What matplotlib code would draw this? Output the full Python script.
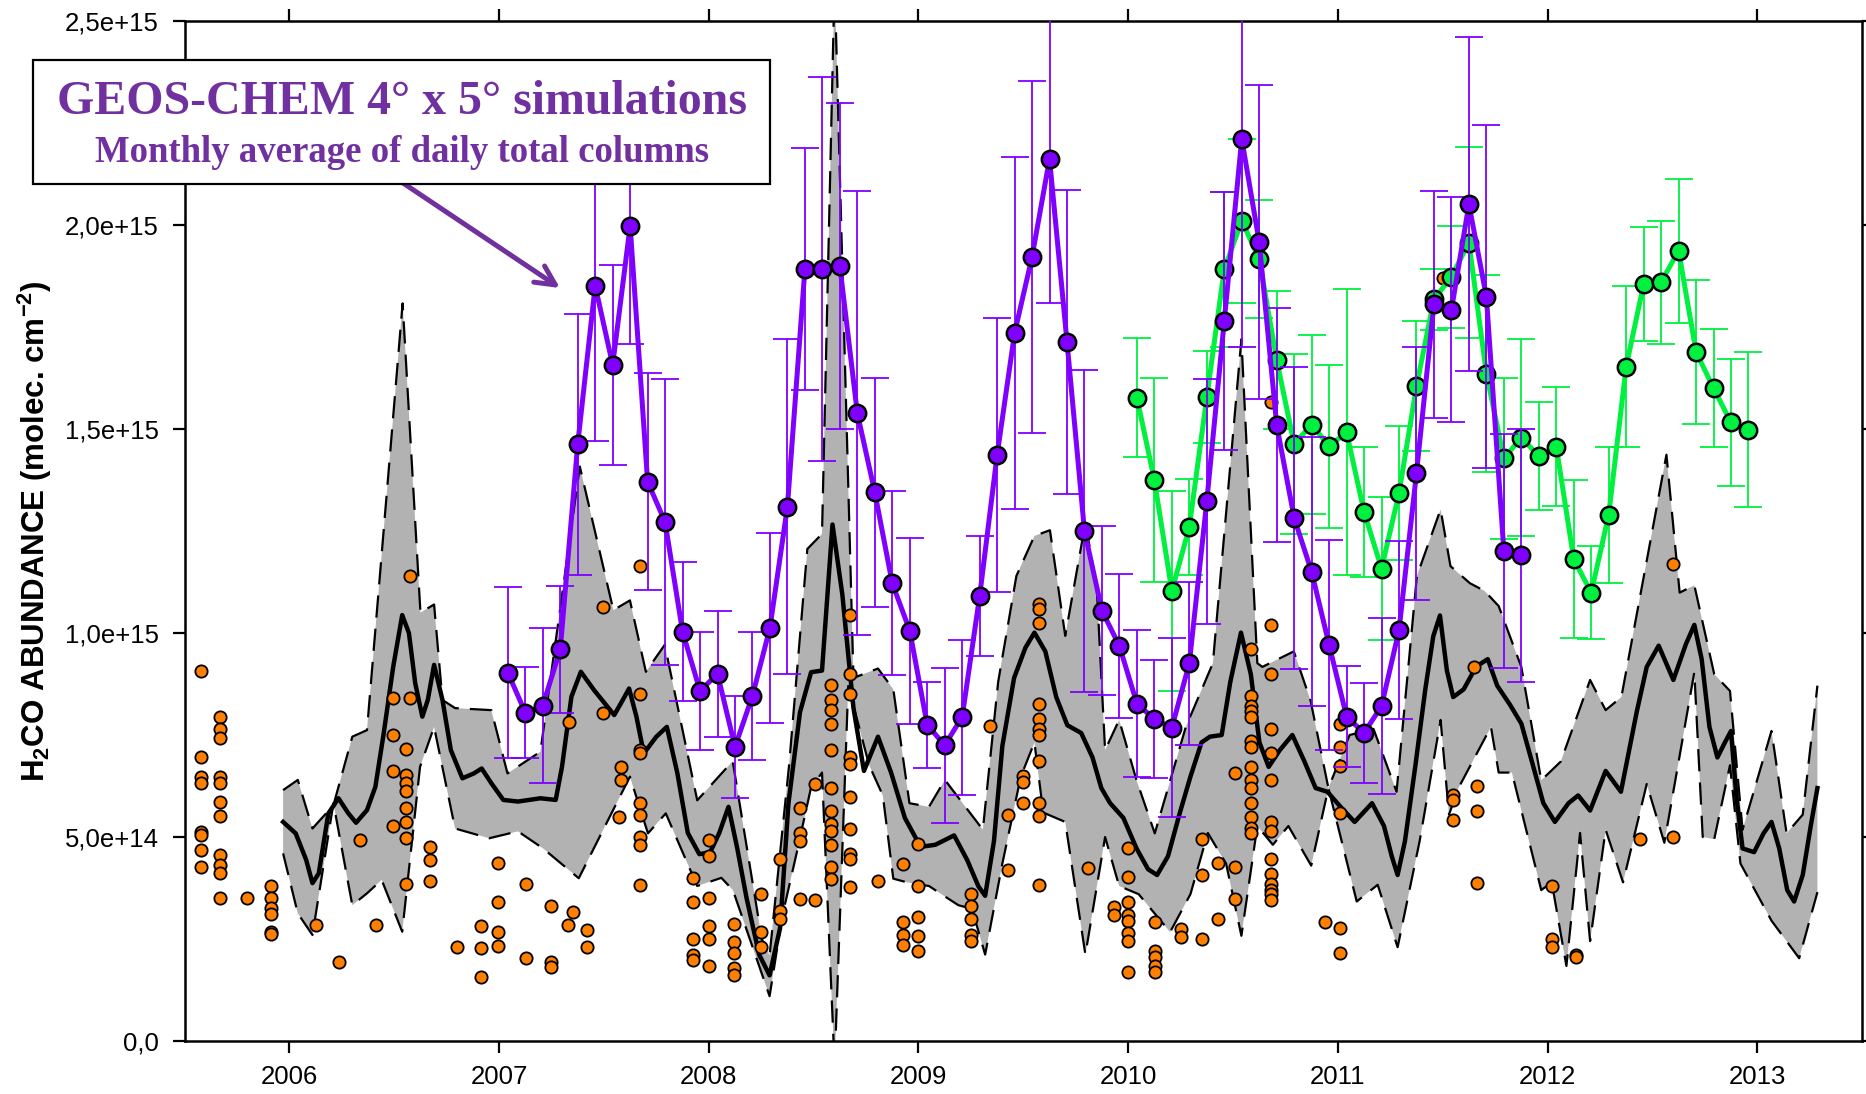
import numpy as np
import matplotlib
matplotlib.use('Agg')
import matplotlib.pyplot as plt
from matplotlib.patches import Rectangle
from matplotlib.ticker import FuncFormatter

plt.rcParams['font.family'] = ['Liberation Sans', 'DejaVu Sans']
plt.rcParams['mathtext.fontset'] = 'custom'
plt.rcParams['mathtext.rm'] = 'Liberation Sans:bold'
plt.rcParams['mathtext.bf'] = 'Liberation Sans:bold'

# valeurs en 1e15 molec/cm2, temps en années décimales
purple_start = 2007
purple_vals = [0.903, 0.805, 0.822, 0.960, 1.463, 1.851, 1.657, 1.998, 1.371, 1.272, 1.003, 0.858,
               0.900, 0.721, 0.846, 1.013, 1.310, 1.892, 1.892, 1.900, 1.539, 1.345, 1.122, 1.006,
               0.775, 0.725, 0.794, 1.090, 1.436, 1.735, 1.922, 2.162, 1.714, 1.250, 1.055, 0.968,
               0.827, 0.789, 0.768, 0.926, 1.323, 1.765, 2.211, 1.958, 1.510, 1.282, 1.150, 0.971,
               0.795, 0.755, 0.821, 1.007, 1.392, 1.806, 1.792, 2.051, 1.824, 1.201, 1.191]
purple_err = [0.21, 0.112, 0.19, 0.155, 0.32, 0.38, 0.245, 0.29, 0.266, 0.35, 0.17, 0.145,
              0.155, 0.125, 0.157, 0.233, 0.41, 0.297, 0.47, 0.40, 0.545, 0.28, 0.225, 0.228,
              0.105, 0.19, 0.19, 0.147, 0.336, 0.432, 0.432, 0.353, 0.373, 0.395, 0.208, 0.176,
              0.18, 0.144, 0.22, 0.20, 0.30, 0.317, 0.51, 0.385, 0.287, 0.37, 0.33, 0.257,
              0.124, 0.123, 0.215, 0.218, 0.31, 0.278, 0.276, 0.41, 0.42, 0.287, 0.31]

green_start = 2010
green_vals = [1.577, 1.375, 1.103, 1.260, 1.578, 1.892, 2.010, 1.917, 1.669, 1.463, 1.511, 1.458,
              1.492, 1.297, 1.158, 1.343, 1.605, 1.818, 1.873, 1.957, 1.636, 1.428, 1.479, 1.434,
              1.457, 1.181, 1.099, 1.290, 1.653, 1.855, 1.860, 1.937, 1.689, 1.600, 1.516, 1.498]
green_err = [0.146, 0.25, 0.246, 0.117, 0.113, 0.19, 0.20, 0.144, 0.17, 0.22, 0.22, 0.20,
             0.35, 0.16, 0.176, 0.164, 0.16, 0.075, 0.125, 0.233, 0.242, 0.197, 0.242, 0.132,
             0.145, 0.193, 0.114, 0.167, 0.198, 0.14, 0.151, 0.176, 0.176, 0.145, 0.156, 0.19]

mean_t = [2005.97, 2006.03, 2006.08, 2006.11, 2006.14, 2006.186, 2006.234, 2006.28, 2006.318, 2006.37,
          2006.41, 2006.45, 2006.495, 2006.538, 2006.57, 2006.60, 2006.634, 2006.66, 2006.69, 2006.73,
          2006.77, 2006.825, 2006.88, 2006.917, 2006.963, 2007.02, 2007.09, 2007.197, 2007.27, 2007.30,
          2007.345, 2007.39, 2007.453, 2007.549, 2007.59, 2007.62, 2007.655, 2007.69, 2007.75, 2007.80,
          2007.85, 2007.90, 2007.955, 2008.007, 2008.05, 2008.094, 2008.136, 2008.18, 2008.24, 2008.29,
          2008.34, 2008.38, 2008.435, 2008.488, 2008.54, 2008.59, 2008.637, 2008.69, 2008.74, 2008.807,
          2008.87, 2008.935, 2009.01, 2009.08, 2009.17, 2009.233, 2009.286, 2009.318, 2009.36, 2009.40,
          2009.456, 2009.51, 2009.553, 2009.605, 2009.657, 2009.71, 2009.776, 2009.83, 2009.872, 2009.914,
          2009.977, 2010.04, 2010.095, 2010.138, 2010.19, 2010.244, 2010.297, 2010.35, 2010.39, 2010.446,
          2010.487, 2010.538, 2010.585, 2010.626, 2010.67, 2010.723, 2010.783, 2010.84, 2010.894, 2010.95,
          2011.013, 2011.08, 2011.163, 2011.22, 2011.257, 2011.285, 2011.32, 2011.37, 2011.417, 2011.455,
          2011.487, 2011.52, 2011.55, 2011.60, 2011.66, 2011.715, 2011.76, 2011.82, 2011.875, 2011.92,
          2011.98, 2012.035, 2012.10, 2012.146, 2012.203, 2012.277, 2012.35, 2012.425, 2012.473, 2012.53,
          2012.60, 2012.66, 2012.70, 2012.735, 2012.772, 2012.81, 2012.846, 2012.875, 2012.90, 2012.93,
          2012.985, 2013.03, 2013.068, 2013.105, 2013.143, 2013.176, 2013.217, 2013.255, 2013.287]
mean_v = [0.537, 0.509, 0.444, 0.387, 0.411, 0.558, 0.595, 0.559, 0.535, 0.566,
          0.623, 0.755, 0.917, 1.044, 1.000, 0.877, 0.795, 0.836, 0.922, 0.836,
          0.713, 0.644, 0.656, 0.668, 0.632, 0.591, 0.587, 0.595, 0.591, 0.672,
          0.844, 0.905, 0.860, 0.799, 0.836, 0.864, 0.795, 0.705, 0.746, 0.770,
          0.657, 0.510, 0.458, 0.463, 0.510, 0.574, 0.472, 0.351, 0.212, 0.161,
          0.277, 0.583, 0.806, 0.904, 0.908, 1.266, 1.094, 0.816, 0.662, 0.746,
          0.657, 0.547, 0.476, 0.481, 0.504, 0.443, 0.379, 0.356, 0.490, 0.723,
          0.890, 0.964, 1.001, 0.955, 0.843, 0.774, 0.755, 0.695, 0.620, 0.583,
          0.547, 0.472, 0.421, 0.407, 0.453, 0.555, 0.648, 0.732, 0.746, 0.750,
          0.880, 1.001, 0.899, 0.732, 0.672, 0.713, 0.750, 0.686, 0.620, 0.611,
          0.574, 0.537, 0.583, 0.527, 0.453, 0.407, 0.490, 0.676, 0.862, 0.992,
          1.043, 0.908, 0.843, 0.862, 0.918, 0.936, 0.871, 0.825, 0.778, 0.695,
          0.583, 0.537, 0.583, 0.602, 0.565, 0.662, 0.611, 0.806, 0.917, 0.969,
          0.885, 0.973, 1.020, 0.936, 0.770, 0.695, 0.732, 0.760, 0.602, 0.472,
          0.463, 0.509, 0.537, 0.472, 0.370, 0.342, 0.407, 0.527, 0.620]

upper_t = [2005.97, 2006.04, 2006.11, 2006.21, 2006.30, 2006.37, 2006.54, 2006.625, 2006.69, 2006.73,
           2006.79, 2006.963, 2007.04, 2007.197, 2007.385, 2007.545, 2007.624, 2007.70, 2007.79, 2007.945,
           2008.114, 2008.253, 2008.29, 2008.383, 2008.47, 2008.54, 2008.60, 2008.69, 2008.807, 2008.88,
           2008.957, 2009.05, 2009.126, 2009.307, 2009.38, 2009.467, 2009.553, 2009.627, 2009.70, 2009.796,
           2009.85, 2009.89, 2009.957, 2010.04, 2010.127, 2010.19, 2010.275, 2010.404, 2010.54, 2010.616,
           2010.64, 2010.79, 2010.87, 2010.955, 2011.056, 2011.17, 2011.28, 2011.377, 2011.49, 2011.537,
           2011.63, 2011.70, 2011.767, 2011.875, 2011.97, 2012.063, 2012.203, 2012.277, 2012.352, 2012.567,
           2012.63, 2012.70, 2012.795, 2012.87, 2012.93, 2013.068, 2013.14, 2013.217, 2013.287]
upper_v = [0.615, 0.640, 0.521, 0.578, 0.746, 0.762, 1.808, 1.050, 1.070, 0.836,
           0.816, 0.811, 0.656, 0.709, 1.408, 1.056, 1.080, 0.905, 0.971, 0.590,
           0.686, 0.250, 0.210, 0.676, 1.206, 1.243, 2.600, 0.890, 0.913, 0.862,
           0.583, 0.574, 0.640, 0.518, 0.880, 1.140, 1.238, 1.252, 0.993, 1.270,
           1.113, 0.713, 0.787, 0.639, 0.509, 0.620, 0.770, 0.926, 1.720, 0.926,
           0.917, 0.955, 0.834, 0.620, 0.750, 0.765, 0.611, 1.140, 1.303, 1.164,
           1.122, 1.103, 1.066, 0.917, 0.639, 0.685, 0.885, 0.811, 0.843, 1.437,
           1.099, 1.117, 0.899, 0.858, 0.518, 0.760, 0.509, 0.555, 0.871]

lower_t = [2005.97, 2006.04, 2006.11, 2006.21, 2006.30, 2006.37, 2006.44, 2006.538, 2006.623, 2006.69,
           2006.79, 2006.953, 2007.09, 2007.21, 2007.38, 2007.624, 2007.71, 2007.795, 2007.945, 2008.06,
           2008.115, 2008.29, 2008.35, 2008.42, 2008.487, 2008.54, 2008.60, 2008.665, 2008.765, 2008.83,
           2008.88, 2008.945, 2009.05, 2009.19, 2009.255, 2009.318, 2009.40, 2009.488, 2009.553, 2009.595,
           2009.70, 2009.796, 2009.89, 2009.957, 2010.05, 2010.20, 2010.297, 2010.38, 2010.467, 2010.54,
           2010.616, 2010.69, 2010.764, 2010.873, 2010.955, 2011.09, 2011.19, 2011.285, 2011.39, 2011.49,
           2011.53, 2011.575, 2011.73, 2011.767, 2011.83, 2011.97, 2012.02, 2012.09, 2012.155, 2012.203,
           2012.277, 2012.36, 2012.473, 2012.557, 2012.70, 2012.74, 2012.795, 2012.87, 2012.92, 2013.068,
           2013.20, 2013.287]
lower_v = [0.460, 0.313, 0.260, 0.583, 0.333, 0.362, 0.395, 0.268, 0.672, 0.770,
           0.521, 0.497, 0.514, 0.472, 0.399, 0.648, 0.509, 0.558, 0.380, 0.400,
           0.370, 0.110, 0.305, 0.463, 0.620, 0.658, -0.060, 0.870, 0.676, 0.602,
           0.398, 0.389, 0.380, 0.333, 0.324, 0.212, 0.435, 0.648, 0.732, 0.560,
           0.537, 0.212, 0.500, 0.380, 0.360, 0.267, 0.360, 0.510, 0.435, 0.258,
           0.527, 0.481, 0.527, 0.430, 0.620, 0.342, 0.383, 0.230, 0.490, 0.787,
           0.555, 0.620, 0.770, 0.658, 0.658, 0.370, 0.389, 0.184, 0.510, 0.245,
           0.518, 0.389, 0.630, 0.486, 0.904, 0.500, 0.495, 0.676, 0.435, 0.295,
           0.203, 0.365]

obs_t = ([2005.58] * 8 + [2005.67] * 11 + [2005.80] + [2005.914] * 6 + [2006.125, 2006.237, 2006.338, 2006.414]
         + [2006.495] * 4 + [2006.577] * 2 + [2006.555] * 8 + [2006.67] * 3 + [2006.80] + [2006.915] * 3
         + [2006.996] * 4 + [2007.127] * 2 + [2007.247] * 3 + [2007.353, 2007.33] + [2007.42] * 2
         + [2007.335] + [2007.496] * 2 + [2007.57] + [2007.58] * 2 + [2007.67] * 9 + [2007.924] * 5
         + [2008.0] * 6 + [2008.12] * 5 + [2008.25] * 3 + [2008.34] * 3 + [2008.435] * 4 + [2008.505] * 2
         + [2008.584] * 12 + [2008.675] * 10 + [2008.807] + [2008.928] * 4 + [2008.999] * 5 + [2009.25] * 5
         + [2009.343] + [2009.425] * 2 + [2009.50] * 3 + [2009.574] * 11 + [2009.81] + [2009.934] * 2
         + [2010.0] * 8 + [2010.127] * 5 + [2010.25] * 2 + [2010.354] * 3 + [2010.43] * 2 + [2010.51] * 3
         + [2010.585] * 14 + [2010.68] * 14 + [2010.94] + [2011.01] * 6 + [2011.50] + [2011.55] * 3
         + [2011.65] + [2011.665] * 3 + [2012.02] * 3 + [2012.134] * 2 + [2012.443] + [2012.597] * 2)
obs_v = [0.907, 0.697, 0.648, 0.633, 0.513, 0.505, 0.468, 0.426,
         0.795, 0.766, 0.742, 0.648, 0.632, 0.587, 0.551, 0.457, 0.431, 0.411, 0.350,
         0.350,
         0.381, 0.350, 0.325, 0.311, 0.268, 0.262,
         0.284, 0.194, 0.493, 0.284,
         0.840, 0.750, 0.662, 0.528,
         0.840, 1.140,
         0.717, 0.652, 0.632, 0.613, 0.570, 0.536, 0.498, 0.385,
         0.475, 0.444, 0.392,
         0.231,
         0.282, 0.227, 0.158,
         0.436, 0.342, 0.268, 0.234,
         0.385, 0.204,
         0.331, 0.194, 0.182,
         0.317, 0.284,
         0.272, 0.231,
         0.783,
         0.803, 1.064,
         0.550,
         0.672, 0.640,
         0.850, 0.713, 0.705, 0.583, 0.554, 0.500, 0.480, 0.382, 1.164,
         0.400, 0.342, 0.251, 0.212, 0.198,
         0.493, 0.453, 0.351, 0.282, 0.250, 0.184,
         0.287, 0.242, 0.217, 0.180, 0.162,
         0.360, 0.268, 0.231,
         0.446, 0.319, 0.300,
         0.572, 0.509, 0.490, 0.347,
         0.630, 0.345,
         0.873, 0.836, 0.811, 0.778, 0.713, 0.619, 0.565, 0.532, 0.514, 0.481, 0.426, 0.398,
         1.043, 0.900, 0.850, 0.695, 0.680, 0.598, 0.520, 0.458, 0.445, 0.377,
         0.393,
         0.435, 0.292, 0.260, 0.235,
         0.483, 0.379, 0.305, 0.258, 0.221,
         0.360, 0.330, 0.300, 0.260, 0.245,
         0.771,
         0.555, 0.420,
         0.650, 0.635, 0.583,
         1.071, 1.058, 1.024, 0.825, 0.790, 0.765, 0.749, 0.687, 0.583, 0.551, 0.382,
         0.424,
         0.328, 0.310,
         0.472, 0.402, 0.342, 0.310, 0.295, 0.265, 0.246, 0.170,
         0.292, 0.221, 0.205, 0.185, 0.170,
         0.275, 0.255,
         0.495, 0.407, 0.251,
         0.437, 0.300,
         0.656, 0.427, 0.347,
         0.962, 0.846, 0.820, 0.810, 0.795, 0.736, 0.720, 0.672, 0.640, 0.620, 0.583, 0.550, 0.523, 0.510,
         1.566, 1.020, 0.900, 0.765, 0.706, 0.640, 0.537, 0.515, 0.446, 0.410, 0.385, 0.370, 0.360, 0.345,
         0.292,
         0.778, 0.720, 0.674, 0.559, 0.277, 0.217,
         1.871,
         0.604, 0.590, 0.542,
         0.917,
         0.625, 0.564, 0.388,
         0.379, 0.251, 0.230,
         0.212, 0.205,
         0.494,
         1.170, 0.500]

year_ticks = [2006, 2007, 2008, 2009, 2010, 2011, 2012, 2013]
value_ticks = [0.0, 0.5, 1.0, 1.5, 2.0, 2.5]

PURPLE = '#7F00FF'
GREEN = '#00F040'
ORANGE = '#FF8000'
TEXT_PURPLE = '#7030A0'


def monthly(start_year, n):
    return start_year + (np.arange(n) + 0.5) / 12.0


def fmt_value(v, pos):
    if v == 0:
        return '0,0'
    return f"{v * 1e15:.1e}".replace('.', ',')


def plot_chart(output_path):
    fig = plt.figure(figsize=(18.66, 10.94), dpi=100)
    ax = fig.add_axes([0.0989, 0.0484, 0.899, 0.9324])

    # bande +/- 1 sigma et moyenne lissée
    ax.fill(np.r_[upper_t, lower_t[::-1]], np.r_[upper_v, lower_v[::-1]],
            color='#B2B2B2', lw=0, zorder=1)
    ax.plot(upper_t, upper_v, color='black', lw=1.6, ls=(0, (10, 5)), zorder=2)
    ax.plot(lower_t, lower_v, color='black', lw=1.6, ls=(0, (10, 5)), zorder=2)
    ax.plot(mean_t, mean_v, color='black', lw=3.2, solid_joinstyle='round', zorder=3)

    ax.scatter(obs_t, obs_v, s=78, facecolor=ORANGE, edgecolor='black', linewidth=1.3, zorder=4)

    gt = monthly(green_start, len(green_vals))
    ax.errorbar(gt, green_vals, yerr=green_err, fmt='none', ecolor=GREEN, elinewidth=1.3,
                capsize=10, capthick=1.3, zorder=5)
    ax.plot(gt, green_vals, color=GREEN, lw=3.6, marker='o', ms=12.5, mfc=GREEN,
            mec='black', mew=1.8, zorder=6)

    pt = monthly(purple_start, len(purple_vals))
    ax.errorbar(pt, purple_vals, yerr=purple_err, fmt='none', ecolor=PURPLE, elinewidth=1.3,
                capsize=10, capthick=1.3, zorder=7)
    ax.plot(pt, purple_vals, color=PURPLE, lw=3.6, marker='o', ms=12.5, mfc=PURPLE,
            mec='black', mew=1.8, zorder=8)

    ax.set_xlim(2005.5, 2013.5)
    ax.set_ylim(0, 2.5)
    ax.set_xticks(year_ticks)
    ax.set_xticklabels([str(y) for y in year_ticks])
    ax.set_yticks(value_ticks)
    ax.yaxis.set_major_formatter(FuncFormatter(fmt_value))
    ax.tick_params(axis='both', direction='out', length=8.5, width=1.6, labelsize=18.5,
                   top=True, right=True, labeltop=False, labelright=False)
    ax.tick_params(axis='x', pad=9)
    ax.tick_params(axis='y', pad=10)
    for sp in ax.spines.values():
        sp.set_linewidth(1.8)

    ax.set_ylabel(r'H$_\mathbf{2}$CO ABUNDANCE (molec. cm$^\mathbf{-2}$)',
                  fontsize=22.5, fontweight='bold')
    ax.yaxis.set_label_coords(-0.078, 0.5)

    # encadré et flèche
    box = Rectangle((0.0177, 0.832), 0.3949, 0.113, transform=fig.transFigure,
                    facecolor='white', edgecolor='black', lw=1.6, zorder=10)
    fig.add_artist(box)
    fig.text(0.2154, 0.9068, 'GEOS-CHEM 4° x 5° simulations', family='Liberation Serif',
             fontweight='bold', fontsize=34.5, color=TEXT_PURPLE, ha='center', va='center', zorder=11)
    fig.text(0.2154, 0.861, 'Monthly average of daily total columns', family='Liberation Serif',
             fontweight='bold', fontsize=26.5, color=TEXT_PURPLE, ha='center', va='center', zorder=11)
    ax.annotate('', xy=(560, 1094 - 288), xycoords='figure pixels',
                xytext=(403, 1094 - 183), textcoords='figure pixels',
                arrowprops=dict(arrowstyle='->', color=TEXT_PURPLE, lw=3.6, mutation_scale=35,
                                shrinkA=0, shrinkB=0), zorder=11)

    fig.savefig(output_path, dpi=100)
    plt.close(fig)


def main():
    plot_chart('out.png')


if __name__ == '__main__':
    main()
